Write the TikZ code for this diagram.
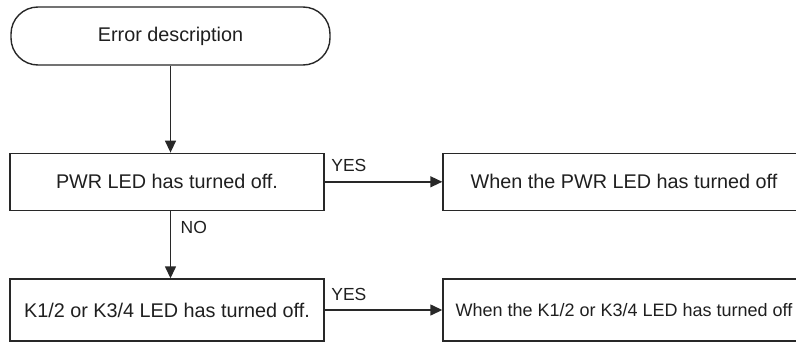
\documentclass[tikz,border=0pt]{standalone}
\usepackage{fontspec}
\setmainfont{Liberation Sans}
\usepackage{tikz}
\usetikzlibrary{arrows.meta,positioning}
\definecolor{lineclr}{RGB}{40,40,40}

\begin{document}
\begin{tikzpicture}[x=1pt, y=-1pt, font=\fontsize{19.8}{23}\selectfont,
      line width=1.4pt, text=black!88,
      terminal/.style={draw=lineclr, line width=1.4pt, rounded corners=27pt, minimum width=319pt, minimum height=58pt},
      stepbox/.style={draw=lineclr, line width=1.4pt, minimum width=314pt, minimum height=57pt},
      resultbox/.style={draw=lineclr, line width=1.4pt, minimum width=362pt, minimum height=57pt},
      answer/.style={font=\fontsize{17.5}{20}\selectfont, inner sep=0pt},
      flow/.style={draw=lineclr, line width=1.4pt, -{Triangle[length=12pt,width=11pt]}}]
    \useasboundingbox (0,0) rectangle (796,343);
    \node[terminal] (start) at (170.5,36) {Error description};
    \node[stepbox, below=86.9pt of start, xshift=-3.5pt] (pwr) {PWR LED has turned off.};
    \node[stepbox, below=67.3pt of pwr, minimum height=62pt] (k) {K1/2 or K3/4 LED has turned off.};
    \node[resultbox, right=117.6pt of pwr] (pwrres) {When the PWR LED has turned off};
    \node[resultbox, right=117.6pt of k, minimum height=62pt, font=\fontsize{18}{21}\selectfont] (kres) {When the K1/2 or K3/4 LED has turned off};
    \draw[flow] (start) -- (start.south |- pwr.north);
    \draw[flow] (start.south |- pwr.south) -- (start.south |- k.north)
      node[answer, pos=0, anchor=north west, xshift=9.5pt, yshift=-9.5pt] {NO};
    \draw[flow] (pwr) -- (pwrres)
      node[answer, pos=0, anchor=south west, xshift=6pt, yshift=9.5pt] {YES};
    \draw[flow] (k) -- (kres)
      node[answer, pos=0, anchor=south west, xshift=6pt, yshift=9pt] {YES};
  \end{tikzpicture}
\end{document}
